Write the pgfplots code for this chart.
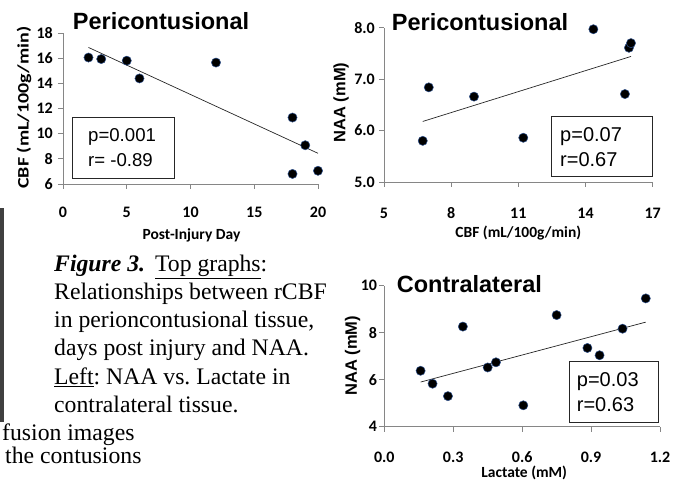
\documentclass[border=0pt]{standalone}
\usepackage{pgfplots}
\pgfplotsset{compat=1.18}
\usepackage{fontspec}
\setmainfont{Liberation Serif}
\newfontfamily\arialf{Liberation Sans}
\newfontfamily\calib{Carlito}
\definecolor{axgray}{RGB}{134,134,134}
\definecolor{dotedge}{RGB}{45,80,140}

\pgfplotsset{
  xlsplot/.style={
    scale only axis, axis lines*=left, enlargelimits=false, clip=false,
    axis line style={axgray, line width=0.8pt},
    tick style={axgray, line width=0.8pt},
    tick align=outside, major tick length=5pt,
    /pgf/number format/assume math mode=true,
    ticklabel style={font=\calib\bfseries\fontsize{16}{16}\selectfont, inner sep=0pt},
    xticklabel style={anchor=base, yshift=-29pt},
    yticklabel style={anchor=east, xshift=-4pt},
  },
  dots/.style={only marks, mark=*, mark size=4.6pt,
    mark options={fill=black, draw=dotedge, line width=0.5pt}},
  trend/.style={no marks, black!85, line width=0.7pt},
}
\newcommand{\lblfont}{\calib\bfseries\fontsize{15.5}{15.5}\selectfont}
\newcommand{\ttlfont}{\arialf\bfseries\fontsize{23.5}{23.5}\selectfont}
\newcommand{\capfont}{\frenchspacing\fontsize{23.7}{28}\selectfont}

\begin{document}
\begin{tikzpicture}[x=1pt,y=1pt]
\useasboundingbox (0,0) rectangle (683,481);

% left edge of a photo
\fill[black!75] (0,59) rectangle (4,273);

% top left: CBF vs day
\begin{axis}[xlsplot, at={(63pt,297pt)}, anchor=south west,
  width=255pt, height=151pt,
  xmin=0, xmax=20, ymin=6, ymax=18,
  xtick={0,5,10,15,20}, ytick={6,8,10,12,14,16,18},
  yticklabel style={xshift=-1pt}]
\addplot[trend] coordinates {(2,16.85) (20,8.44)};
\addplot[dots] coordinates {(2,16.05) (3,15.93) (5,15.8) (6,14.39) (12,15.65)
  (18,11.28) (18,6.8) (19,9.08) (20,7.05)};
\end{axis}

% top right: NAA vs CBF
\begin{axis}[xlsplot, at={(384pt,299pt)}, anchor=south west,
  width=268.7pt, height=154.3pt,
  xmin=5, xmax=17, ymin=5, ymax=8,
  xtick={5,8,11,14,17}, ytick={5,6,7,8}, yticklabels={5.0,6.0,7.0,8.0},
  xticklabel style={yshift=-2.3pt}]
\addplot[trend] coordinates {(6.73,6.177) (16.03,7.441)};
\addplot[dots] coordinates {(6.73,5.80) (7.0,6.84) (9.02,6.66) (11.22,5.86)
  (14.35,7.97) (15.76,6.71) (15.94,7.61) (16.03,7.70)};
\end{axis}

% bottom right: NAA vs lactate
\begin{axis}[xlsplot, at={(384.3pt,54.3pt)}, anchor=south west,
  width=275.7pt, height=141pt,
  xmin=0, xmax=1.2, ymin=4, ymax=10,
  xtick={0,0.3,0.6,0.9,1.2}, xticklabels={0.0,0.3,0.6,0.9,1.2},
  ytick={4,6,8,10},
  xticklabel style={yshift=-2.2pt}, yticklabel style={xshift=2pt}]
\addplot[trend] coordinates {(0.158,5.90) (1.138,8.45)};
\addplot[dots] coordinates {(0.158,6.38) (0.21,5.83) (0.277,5.30) (0.342,8.26)
  (0.45,6.52) (0.486,6.74) (0.605,4.91) (0.75,8.75) (0.884,7.35) (0.937,7.04)
  (1.037,8.17) (1.138,9.46)};
\end{axis}

% titles
\node[anchor=base west, inner sep=0pt, font=\ttlfont] at (72.7,451) {Pericontusional};
\node[anchor=base west, inner sep=0pt, font=\ttlfont] at (391.7,450.3) {Pericontusional};
\node[anchor=base west, inner sep=0pt, font=\ttlfont] at (396.7,188.3) {Contralateral};

% axis labels
\node[anchor=base, inner sep=0pt, font=\lblfont] at (191.5,241) {Post-Injury Day};
\node[rotate=90, inner sep=0pt, font=\calib\bfseries\fontsize{16}{16}\selectfont]
  at (24,373.5) {\scalebox{1.25}[1]{CBF (mL/100g/min)}};
\node[anchor=base, inner sep=0pt, font=\lblfont] at (518.3,243.7) {CBF (mL/100g/min)};
\node[rotate=90, inner sep=0pt, font=\arialf\bfseries\fontsize{16.5}{16.5}\selectfont]
  at (341,378.5) {NAA (mM)};
\node[rotate=90, inner sep=0pt, font=\arialf\bfseries\fontsize{16.5}{16.5}\selectfont]
  at (352.5,125.2) {NAA (mM)};
\node[anchor=base, inner sep=0pt, font=\lblfont] at (524.2,3.4) {Lactate (mM)};

% statistics boxes
\draw[black!85, line width=0.9pt, fill=white] (72,303) rectangle (174,364);
\node[anchor=base west, inner sep=0pt, font=\arialf\fontsize{18.6}{18.6}\selectfont] at (88,339.3) {p=0.001};
\node[anchor=base west, inner sep=0pt, font=\arialf\fontsize{18.6}{18.6}\selectfont] at (88,314.3) {r= -0.89};
\draw[black!85, line width=0.9pt, fill=white] (551.7,304.3) rectangle (652.7,364.3);
\node[anchor=base west, inner sep=0pt, font=\arialf\fontsize{20}{20}\selectfont] at (560,339.3) {p=0.07};
\node[anchor=base west, inner sep=0pt, font=\arialf\fontsize{20}{20}\selectfont] at (560,314.3) {r=0.67};
\draw[black!85, line width=0.9pt, fill=white] (569.3,58.3) rectangle (658.3,119.3);
\node[anchor=base west, inner sep=0pt, font=\arialf\fontsize{20}{20}\selectfont] at (576.7,94.3) {p=0.03};
\node[anchor=base west, inner sep=0pt, font=\arialf\fontsize{20}{20}\selectfont] at (576.7,69.3) {r=0.63};

% caption
\begin{scope}[every node/.style={anchor=base west, inner sep=0pt, font=\capfont}]
\node at (54,209) {\textbf{\textit{Figure 3.}}\hspace{10pt}\underline{Top graphs}:};
\node at (54,181) {Relationships between rCBF};
\node at (54,153.5) {in perioncontusional tissue,};
\node at (54,125) {days post injury and NAA.};
\node at (54,96) {\underline{Left}: NAA vs. Lactate in};
\node at (54,68) {contralateral tissue.};
\node at (2,40.3) {fusion images};
\node at (5,17) {the contusions};
\end{scope}
\end{tikzpicture}
\end{document}
